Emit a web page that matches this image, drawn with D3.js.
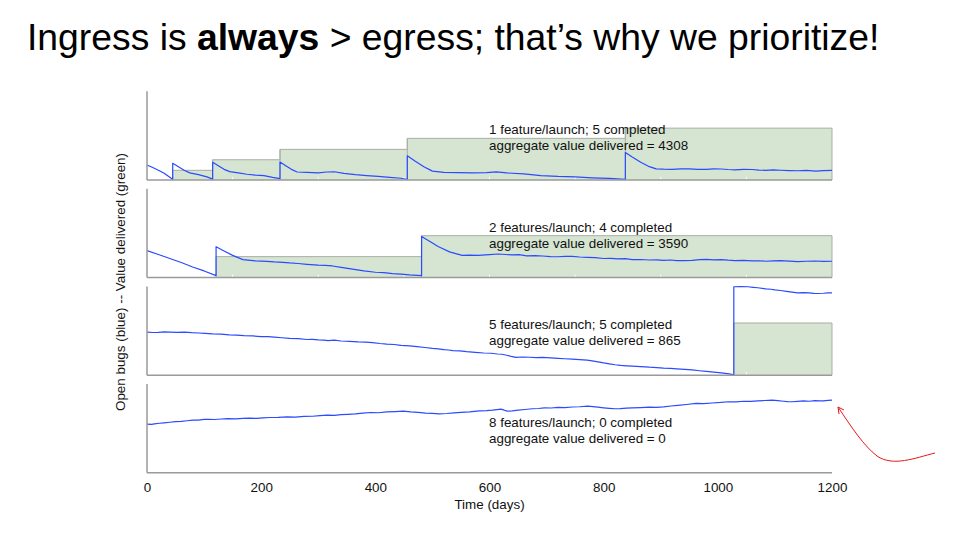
<!DOCTYPE html>
<html><head><meta charset="utf-8">
<script src="https://cdn.jsdelivr.net/npm/d3@7"></script>
<style>
body{margin:0;background:#fff;}
svg{display:block;font-family:"Liberation Sans",Arial,Helvetica,sans-serif;}
</style></head>
<body>
<svg id="chart" width="960" height="540"></svg>
<script>
// ---------- data ----------
const titleParts = [
  {text:"Ingress is ", bold:false},
  {text:"always", bold:true},
  {text:" > egress; that\u2019s why we prioritize!", bold:false}
];
const xTicks = [0,200,400,600,800,1000,1200];
const xLabel = "Time (days)";
const yLabel = "Open bugs (blue) -- Value delivered (green)";
const launchLabels = ["1 feature/launch; 5 completed","2 features/launch; 4 completed","5 features/launch; 5 completed","8 features/launch; 0 completed"];
const valueLabels = ["aggregate value delivered = 4308","aggregate value delivered = 3590","aggregate value delivered = 865","aggregate value delivered = 0"];

// open bugs per panel: [day, level]
const bugs1 = [[0,16.9],[10,14],[20,11],[30,7.5],[40,3],[45,0.5],[45,18.8],[55,15],[65,11],[75,8],[90,6],[105,3.5],[115,1],[115,19.9],[125,16],[135,12],[145,9.4],[160,8],[175,6.5],[190,5.5],[205,5],[220,3],[233,1.5],[233,20.2],[243,16],[253,12],[263,9],[280,8.6],[300,8],[315,9],[328,9.3],[345,7.5],[365,6],[385,5],[405,4],[425,3],[445,2],[456,0.6],[456,27.3],[470,21],[485,15],[500,10],[520,8.6],[545,8.4],[570,8],[595,8.2],[612,9.2],[630,8],[660,6.8],[690,5],[720,4],[750,3.5],[780,2.5],[810,1.8],[838,0.6],[838,31.1],[850,26],[865,20],[880,15],[892,12.6],[905,12.2],[920,12],[935,12.6],[950,12.5],[965,11.9],[980,12],[993,12.6],[1006,12.4],[1018,11.8],[1030,11.5],[1045,12],[1060,11.8],[1072,11.2],[1084,10.9],[1097,11.3],[1110,11],[1125,10.6],[1140,10.4],[1155,10.8],[1172,10.1],[1185,10.6],[1200,10.9]];
const bugs2 = [[0,30.3],[20,26],[40,21.5],[60,17],[80,12],[100,7.5],[121,2.2],[121,34.8],[135,30],[150,25],[168,20.2],[190,18.8],[210,18.3],[223,17.6],[238,17.2],[250,16.5],[265,15.9],[280,15],[300,14],[312,13.8],[325,13.1],[340,11.5],[360,9.5],[380,7.5],[400,6],[415,5.6],[430,4.5],[445,4],[460,3],[481,2.2],[481,46.4],[495,41],[510,35],[530,29],[552,25.1],[565,25.4],[580,25],[600,25.8],[615,26.6],[628,26],[640,25.5],[652,25.8],[665,24.5],[680,24.7],[693,24.3],[707,23.6],[720,23.5],[733,24],[745,23.8],[758,23.2],[771,22.8],[785,22.4],[800,21.5],[812,21.6],[825,21],[838,21.3],[850,20.2],[865,20.4],[880,19.8],[893,19.9],[905,19.5],[917,19.8],[928,19.1],[942,19.2],[955,19.5],[968,20.3],[980,20.5],[993,20],[1006,20.2],[1018,19.6],[1030,19.2],[1045,19.4],[1060,18.8],[1072,19],[1084,18.4],[1097,18.8],[1110,19.2],[1125,18.6],[1140,18],[1155,18.4],[1170,18.7],[1185,18.2],[1200,18.4]];
const bugs3 = [[0,48.5],[10,48.1],[20,48.2],[30,48.8],[40,48.6],[52,48.3],[66,48.5],[78,47.9],[90,47.5],[102,47.2],[115,46.5],[130,46.3],[144,45.5],[157,45.2],[170,44.5],[185,44.2],[200,43.5],[212,43.4],[223,42.8],[236,42.2],[250,41.5],[265,41.2],[280,40.2],[290,40.4],[300,39.8],[310,39.5],[317,39],[328,39.4],[340,38.5],[355,38.1],[370,37.5],[383,37.2],[395,36.7],[408,35.7],[420,35],[433,34.6],[445,33.5],[460,33],[473,32.2],[487,31.2],[500,30.2],[510,29.6],[520,28.8],[528,28.4],[536,27.7],[548,27.3],[560,26.5],[575,25.8],[590,25],[603,24.7],[614,23.9],[622,23.6],[630,22.5],[638,21.2],[646,20.1],[658,20.5],[670,20.2],[682,19.8],[693,20.1],[707,19.6],[720,19],[732,18.5],[745,18],[758,17.6],[771,17],[780,16.2],[790,15],[800,13.8],[810,12.8],[820,11.8],[830,11],[840,10.6],[850,10.2],[865,9.7],[880,9],[893,8.6],[905,8],[917,7.7],[928,7.2],[942,6.6],[955,6],[968,5],[980,4.2],[993,3.5],[1006,2.6],[1020,1.5],[1028,0.3],[1028,99.6],[1040,99.8],[1053,99.6],[1062,99],[1070,98.5],[1084,97.3],[1093,96.8],[1100,96],[1110,95.4],[1120,94.5],[1130,93.6],[1140,92.8],[1150,92.9],[1160,92.6],[1168,92.1],[1175,92],[1185,92.3],[1193,92.8],[1200,92.6]];
const bugs4 = [[0,54.9],[8,54.6],[13,55],[22,55.8],[30,56.3],[40,56.9],[50,57.6],[60,57.9],[70,58.6],[80,59.3],[90,59.4],[100,60.1],[108,60.3],[118,60],[130,60.6],[142,60.9],[155,60.8],[168,61.3],[180,61.6],[192,61.2],[203,61.8],[215,62.3],[230,62.4],[245,63],[260,62.8],[275,63.5],[290,63.7],[303,64.4],[316,65],[328,64.6],[340,65.6],[352,65.9],[365,66.4],[378,67.2],[392,67.9],[405,67.6],[420,68.6],[435,69],[449,69.4],[462,68.6],[475,68.1],[488,67.3],[500,67],[512,66.4],[525,66.8],[538,67.5],[550,68.1],[565,68.6],[582,69.8],[595,70.1],[605,70.6],[613,71.2],[620,71.7],[626,70.5],[631,69.4],[640,69.8],[650,70.6],[662,71.3],[675,72.1],[686,72.4],[696,73.2],[708,73],[720,73.6],[732,73.4],[745,74.1],[758,74.4],[772,75.1],[781,74.6],[790,73.9],[800,73.2],[810,72.6],[820,72.1],[829,72.3],[840,72.8],[850,73.1],[865,73.4],[880,73.9],[892,73.6],[905,74.3],[918,75.2],[930,76],[945,76.9],[962,78.1],[975,78],[990,78.6],[1005,79.2],[1019,80],[1032,79.8],[1045,80.6],[1058,80.4],[1070,81.1],[1082,81.4],[1095,81.9],[1105,81.2],[1115,80.6],[1122,80.1],[1130,80],[1140,80.5],[1150,80.9],[1160,80.6],[1170,81.3],[1178,81.1],[1185,80.9],[1193,81.5],[1200,81.8]];

// cumulative value delivered per panel: [completion day, level]
const value1 = [[45,10.9],[115,22.8],[233,34.5],[456,46.9],[838,58.4]];
const value2 = [[121,23.6],[481,47.2]];
const value3 = [[1028,58.8]];
const value4 = [];

const bugSeries = [bugs1,bugs2,bugs3,bugs4];
const valueSeries = [value1,value2,value3,value4];

// ---------- layout ----------
const svg = d3.select("#chart");
const X0 = 147, X1 = 832;
const panelTop0 = 91.2, panelStep = 97.6, panelH = 88.8;
const endDay = 1200;
const FS = 13.4;

const x = d3.scaleLinear().domain([0,1200]).range([X0,X1]);

// title
const title = svg.append("text").attr("x",27).attr("y",50)
  .attr("font-size",37.3).attr("fill","#000");
titleParts.forEach(p=>{
  title.append("tspan").text(p.text).attr("font-weight",p.bold?"bold":"normal");
});

const gridTicks = [150,300,450,600,750,900,1050];

bugSeries.forEach((bugs,i)=>{
  const top = panelTop0 + i*panelStep;
  const bottom = top + panelH;
  const y = d3.scaleLinear().domain([0,100]).range([bottom,top]);
  const g = svg.append("g");

  const vals = valueSeries[i];
  if (vals.length){
    const pts = vals.concat([[endDay, vals[vals.length-1][1]]]);
    const area = d3.area().curve(d3.curveStepAfter)
      .x(d=>x(d[0])).y0(y(0)).y1(d=>y(d[1]));
    g.append("path").datum(pts).attr("d",area)
      .attr("fill","#d6e5d1").attr("stroke","none");
    const line = d3.line().curve(d3.curveStepAfter).x(d=>x(d[0])).y(d=>y(d[1]));
    g.append("path").datum(pts).attr("d",line)
      .attr("fill","none").attr("stroke","#a7aea5").attr("stroke-width",1);
    g.selectAll("line.edge").data(pts.slice(0,-1)).join("line")
      .attr("x1",d=>x(d[0])).attr("x2",d=>x(d[0]))
      .attr("y1",y(0)).attr("y2",d=>y(d[1]))
      .attr("stroke","#a7aea5").attr("stroke-width",1);
    g.append("line").attr("x1",x(endDay)).attr("x2",x(endDay))
      .attr("y1",y(0)).attr("y2",y(vals[vals.length-1][1]))
      .attr("stroke","#a7aea5").attr("stroke-width",1);
  }
  g.selectAll("line.gt").data(gridTicks).join("line")
    .attr("x1",d=>x(d)).attr("x2",d=>x(d))
    .attr("y1",bottom).attr("y2",bottom-3)
    .attr("stroke","#fff").attr("stroke-width",1);

  g.append("text").attr("x",489).attr("y",top+43).attr("font-size",FS)
    .attr("fill","#111").text(launchLabels[i]);
  g.append("text").attr("x",489).attr("y",top+59).attr("font-size",FS)
    .attr("fill","#111").text(valueLabels[i]);

  const bl = d3.line().x(d=>x(d[0])).y(d=>y(d[1]));
  g.append("path").datum(bugs).attr("d",bl)
    .attr("fill","none").attr("stroke","#2a4bff").attr("stroke-width",1.2)
    .attr("stroke-linejoin","round");

  g.append("line").attr("x1",X0).attr("x2",X0).attr("y1",top).attr("y2",bottom)
    .attr("stroke","#9a9a9a").attr("stroke-width",1.5);
  g.append("line").attr("x1",X0).attr("x2",X1).attr("y1",bottom).attr("y2",bottom)
    .attr("stroke","#9a9a9a").attr("stroke-width",1.5);

  if (i===3){
    const ax = svg.append("g").attr("transform",`translate(0,${bottom})`)
      .call(d3.axisBottom(x).tickValues(xTicks).tickSize(0).tickPadding(10).tickFormat(d3.format("d")));
    ax.select(".domain").remove();
    ax.selectAll("text").attr("font-size",FS).attr("fill","#111")
      .attr("font-family","'Liberation Sans',Arial,sans-serif");
    svg.append("text").attr("x",(X0+X1)/2).attr("y",bottom+36)
      .attr("text-anchor","middle").attr("font-size",FS).attr("fill","#111").text(xLabel);
  }
});

const yMid = (panelTop0 + panelTop0 + 3*panelStep + panelH)/2;
svg.append("text").attr("transform",`translate(125,${yMid}) rotate(-90)`)
  .attr("text-anchor","middle").attr("font-size",FS).attr("fill","#111").text(yLabel);

svg.append("path").attr("d","M935,453 C915,458 893,467 877,456 C864,446 852,428 838,407")
  .attr("fill","none").attr("stroke","#e8161b").attr("stroke-width",1);
svg.append("path").attr("d","M838,407 L839,414 M838,407 L844,410")
  .attr("fill","none").attr("stroke","#e8161b").attr("stroke-width",1);
</script>
</body></html>
